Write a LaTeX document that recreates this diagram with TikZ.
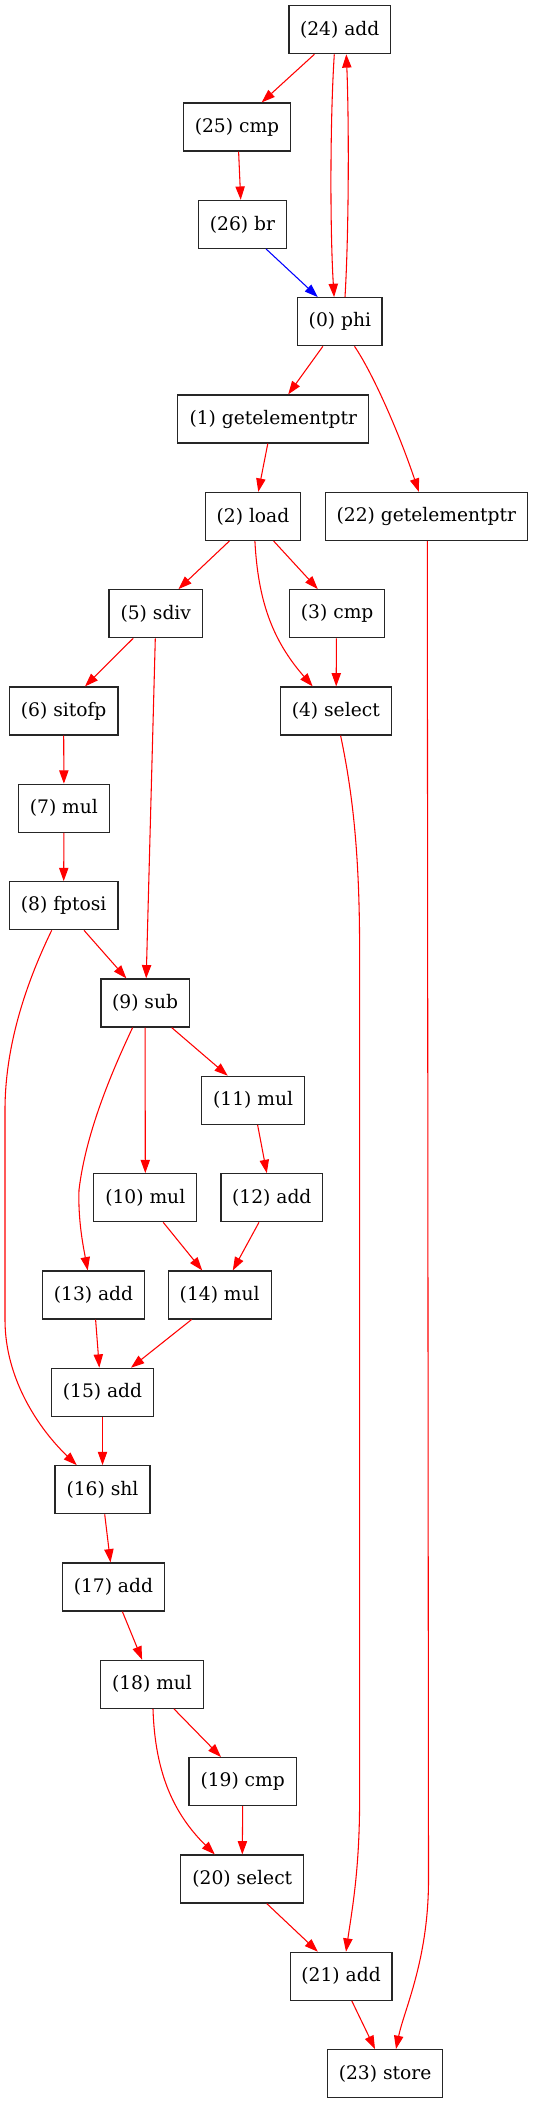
\documentclass[tikz,border=0pt]{standalone}
\usepackage{fontspec}
\setmainfont{DejaVu Serif}
\usetikzlibrary{arrows.meta,calc}
\begin{document}
\begin{tikzpicture}[x=0.75pt,y=-0.75pt,
  box/.style={draw=black!85,line width=0.9pt,rectangle,inner sep=0pt,minimum height=36pt,
    font=\fontsize{14pt}{16pt}\selectfont},
  wd/.style={minimum width=#1pt},
  e/.style={draw=red,line width=0.8pt,-{Triangle[length=10pt,width=7pt]}},
  eb/.style={draw=blue,line width=0.8pt,-{Triangle[length=10pt,width=7pt]}}]
\useasboundingbox (0,0) rectangle (533,2104);
% nodes
\node[box,wd=76.2]  (n24) at (339.7,29.7)   {(24) add};
\node[box,wd=80.3]  (n25) at (237.0,127.0)  {(25) cmp};
\node[box,wd=65.6]  (n26) at (242.5,224.4)  {(26) br};
\node[box,wd=63.2]  (n0)  at (339.9,321.7)  {(0) phi};
\node[box,wd=143.3] (n1)  at (273.3,419.0)  {(1) getelementptr};
\node[box,wd=71.3]  (n2)  at (253.0,516.4)  {(2) load};
\node[box,wd=151.7] (n22) at (426.4,516.4)  {(22) getelementptr};
\node[box,wd=70.1]  (n5)  at (155.8,613.7)  {(5) sdiv};
\node[box,wd=71.4]  (n3)  at (337.2,613.7)  {(3) cmp};
\node[box,wd=81.3]  (n6)  at (63.7,711.0)   {(6) sitofp};
\node[box,wd=83.1]  (n4)  at (335.8,711.0)  {(4) select};
\node[box,wd=68.0]  (n7)  at (63.9,808.3)   {(7) mul};
\node[box,wd=81.3]  (n8)  at (63.7,905.7)   {(8) fptosi};
\node[box,wd=66.3]  (n9)  at (145.1,1003.0) {(9) sub};
\node[box,wd=77.3]  (n11) at (253.1,1100.3) {(11) mul};
\node[box,wd=77.3]  (n10) at (145.3,1197.7) {(10) mul};
\node[box,wd=76.2]  (n12) at (271.8,1197.7) {(12) add};
\node[box,wd=76.5]  (n13) at (93.5,1295.0)  {(13) add};
\node[box,wd=77.3]  (n14) at (219.7,1295.0) {(14) mul};
\node[box,wd=76.3]  (n15) at (102.5,1392.3) {(15) add};
\node[box,wd=71.3]  (n16) at (102.5,1489.7) {(16) shl};
\node[box,wd=76.2]  (n17) at (113.4,1587.0) {(17) add};
\node[box,wd=77.0]  (n18) at (152.0,1684.3) {(18) mul};
\node[box,wd=80.6]  (n19) at (242.7,1781.6) {(19) cmp};
\node[box,wd=92.3]  (n20) at (242.3,1879.0) {(20) select};
\node[box,wd=76.2]  (n21) at (341.1,1976.3) {(21) add};
\node[box,wd=86.3]  (n23) at (385.1,2073.6) {(23) store};
% edges
\draw[e] ($(n24.south)+(-25.3,0)$) -- ($(n25.north)+(24.7,0)$);
\draw[e] ($(n24.south)+(-5.4,0)$) .. controls (330,120) and (330,230) .. ($(n0.north)+(-5.8,0)$);
\draw[e] ($(n0.north)+(5.1,0)$) .. controls (349,230) and (349,120) .. ($(n24.south)+(6.6,0)$);
\draw[e] ($(n25.south)+(1.6,0)$) -- ($(n26.north)+(-1.8,0)$);
\draw[eb] ($(n26.south)+(23.6,0)$) -- ($(n0.north)+(-22.1,0)$);
\draw[e] ($(n0.south)+(-17,0)$) -- ($(n1.north)+(14.9,0)$);
\draw[e] ($(n0.south)+(14.6,0)$) .. controls (372,372) and (398,430) .. ($(n22.north)+(-7.6,0)$);
\draw[e] ($(n1.south)+(-5.5,0)$) -- ($(n2.north)+(5.3,0)$);
\draw[e] ($(n2.south)+(-23.6,0)$) -- ($(n5.north)+(22.7,0)$);
\draw[e] ($(n2.south)+(1.9,0)$) .. controls (258,600) and (272,640) .. ($(n4.north)+(-23.1,0)$);
\draw[e] ($(n2.south)+(20.6,0)$) -- ($(n3.north)+(-19.4,0)$);
\draw[e] ($(n22.south)+(0.9,0)$) -- (428.5,1880) .. controls (428.5,1960) and (404,2010) .. ($(n23.north)+(10.9,0)$);
\draw[e] ($(n5.south)+(-22.6,0)$) -- ($(n6.north)+(21.3,0)$);
\draw[e] ($(n5.south)+(-0.5,0)$) -- ($(n9.north)+(1.1,0)$);
\draw[e] ($(n3.south)+(-0.8,0)$) -- ($(n4.north)+(0.4,0)$);
\draw[e] ($(n4.south)+(4.8,0)$) .. controls (352,790) and (359.6,850) .. (359.6,950) -- (359.6,1800) .. controls (359.6,1870) and (352,1910) .. ($(n21.north)+(4.9,0)$);
\draw[e] (n6.south) -- (n7.north);
\draw[e] (n7.south) -- (n8.north);
\draw[e] ($(n8.south)+(20.3,0)$) -- ($(n9.north)+(-18.7,0)$);
\draw[e] ($(n8.south)+(-12,0)$) .. controls (30,975) and (5,1040) .. (5,1110) -- (5,1320) .. controls (5,1380) and (40,1430) .. ($(n16.north)+(-25.8,0)$);
\draw[e] ($(n9.south)+(26.6,0)$) -- ($(n11.north)+(-25.4,0)$);
\draw[e] (n9.south) -- (n10.north);
\draw[e] ($(n9.south)+(-12.5,0)$) .. controls (115,1065) and (86,1130) .. (79,1190) .. controls (78,1220) and (83,1245) .. ($(n13.north)+(-5.8,0)$);
\draw[e] ($(n11.south)+(4.5,0)$) -- ($(n12.north)+(-5,0)$);
\draw[e] ($(n10.south)+(17.9,0)$) -- ($(n14.north)+(-17.5,0)$);
\draw[e] ($(n12.south)+(-12.8,0)$) -- ($(n14.north)+(13.1,0)$);
\draw[e] ($(n13.south)+(2.1,0)$) -- ($(n15.north)+(-3.2,0)$);
\draw[e] ($(n14.south)+(-28.2,0)$) -- ($(n15.north)+(28.5,0)$);
\draw[e] (n15.south) -- (n16.north);
\draw[e] ($(n16.south)+(2.2,0)$) -- ($(n17.north)+(-2.9,0)$);
\draw[e] ($(n17.south)+(9,0)$) -- ($(n18.north)+(-9.9,0)$);
\draw[e] ($(n18.south)+(22,0)$) -- ($(n19.north)+(-21.7,0)$);
\draw[e] ($(n18.south)+(1,0)$) .. controls (155,1775) and (175,1815) .. ($(n20.north)+(-27.5,0)$);
\draw[e] (n19.south) -- (n20.north);
\draw[e] ($(n20.south)+(24.5,0)$) -- ($(n21.north)+(-23.3,0)$);
\draw[e] ($(n21.south)+(10.7,0)$) -- ($(n23.north)+(-10.1,0)$);
\end{tikzpicture}
\end{document}
